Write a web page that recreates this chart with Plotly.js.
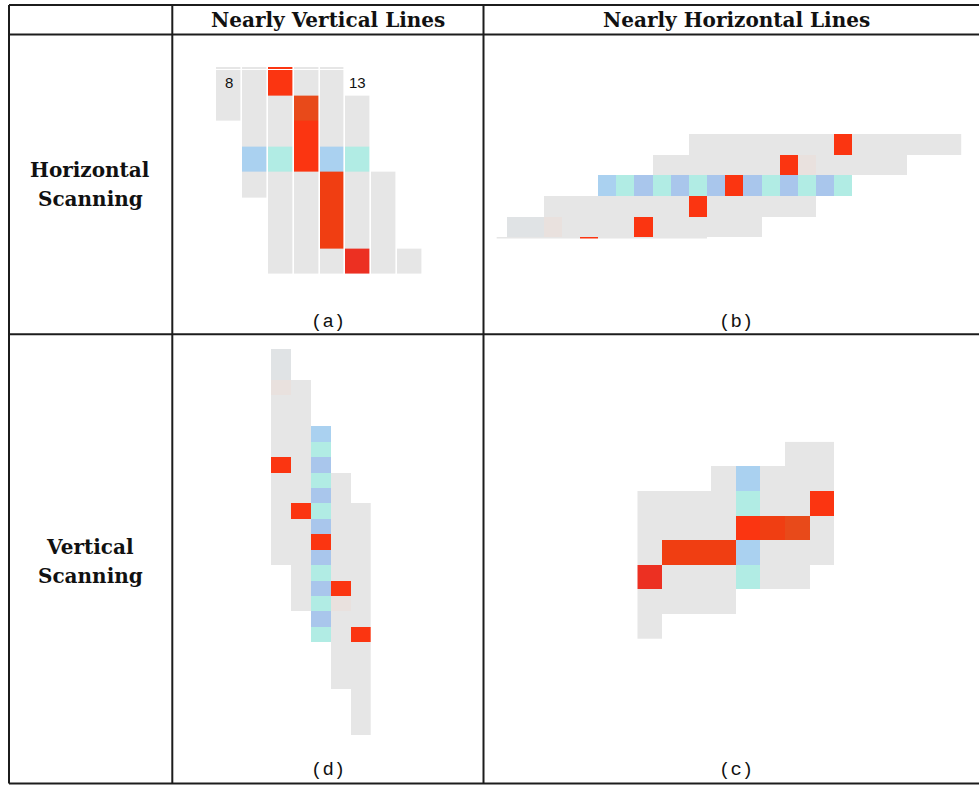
<!DOCTYPE html>
<html>
<head>
<meta charset="utf-8">
<script src="https://cdn.plot.ly/plotly-3.0.1.min.js"></script>
<style>html,body{margin:0;padding:0;background:#fff;}#chart{width:979px;height:785px;}</style>
</head>
<body>
<div id="chart"></div>
<script>
// ---- cell categories ----
const cellCodes  = ['G','g','P','R','r','o','D','B','b','C'];
const cellColors = ['#E6E6E6','#E0E3E5','#E9E1DE','#FB3511','#F03E12','#E84A1A','#EC3022','#AAD1F0','#A9C6EC','#B1ECE4'];

// ---- panel (a): horizontal scanning, nearly vertical lines (rows -1..7, cols 0..7) ----
const panelA_rowStart = -1;
const panelA = [
  'GGRGG...',
  'GGRGG...',
  'GGGoGG..',
  '.GGRGG..',
  '.BCRBC..',
  '.GGGrGG.',
  '..GGrGG.',
  '..GGrGG.',
  '..GGGDGG'
];
const panelA_labels = ['8','13'];

// ---- panel (b): horizontal scanning, nearly horizontal lines (rows 0..5, cols -6..19) ----
const panelB_colStart = -6;
const panelB = [
  '...........GGGGGGGGRGGGGGG',
  '.........GGGGGGGRPGGGGG...',
  '......BCbCbCbRbCbCbC......',
  '...GGGGGGGGRGGGGGG........',
  '.ggPGGGGRGGGGGG...........',
  'GGGGGRGGGGGG..............'
];

// ---- panel (d): vertical scanning, nearly vertical lines (rows -5..19, cols 0..4) ----
const panelD_rowStart = -5;
const panelD = [
  'g....','g....','PG...','GG...','GG...',
  'GGB..','GGC..','RGb..','GGCG.','GGbG.',
  'GRCGG','GGbGG','GGRGG','GGbGG','.GCGG',
  '.GbRG','.GCPG','..bGG','..CGR','...GG',
  '...GG','...GG','....G','....G','....G'
];

// ---- panel (c): vertical scanning, nearly horizontal lines (rows 0..7, cols 0..7) ----
const panelC = [
  '......GG',
  '...GBGGG',
  'GGGGCGGR',
  'GGGGRroG',
  'GrrrBGGG',
  'DGGGCGG.',
  'GGGG....',
  'G.......'
];

// ---- text ----
const colHeaders = ['Nearly Vertical Lines','Nearly Horizontal Lines'];
const rowHeaders = [['Horizontal','Scanning'],['Vertical','Scanning']];
const captions = ['(a)','(b)','(d)','(c)'];

// ---- helpers ----
const W = 979, H = 785;
function toZ(rows){
  return rows.map(r => r.split('').map(ch => { const i = cellCodes.indexOf(ch); return i < 0 ? null : i; }));
}
function seq(start, n){ const a=[]; for(let i=0;i<n;i++) a.push(start+i); return a; }
const cs = cellColors.map((c,i)=>[i/(cellColors.length-1), c]);
function hm(rows, colStart, rowStart, ax, gap){
  return {
    type:'heatmap', z: toZ(rows),
    x: seq(colStart, rows[0].length), y: seq(rowStart, rows.length),
    colorscale: cs, zmin:0, zmax: cellColors.length-1, showscale:false,
    xgap: gap, ygap: 0, hoverinfo:'skip',
    xaxis: 'x'+ax, yaxis: 'y'+ax
  };
}
function axis(px0, px1, range, horizontal){
  const d = horizontal ? [px0/W, px1/W] : [1-px1/H, 1-px0/H];
  return {domain:d, range:range, visible:false, showgrid:false, zeroline:false, fixedrange:true};
}

const traces = [
  hm(panelA, 0, panelA_rowStart, '', 1.6),
  hm(panelB, panelB_colStart, 0, '2', 0),
  hm(panelD, 0, panelD_rowStart, '3', 0),
  hm(panelC, 0, 0, '4', 0)
];

const line = {color:'#1c1c1c', width:2};
function L(x0,y0,x1,y1){ return {type:'line', xref:'paper', yref:'paper', x0:x0/W, x1:x1/W, y0:1-y0/H, y1:1-y1/H, line:line, layer:'above'}; }
const shapes = [
  L(9,5,979,5), L(9,783.5,979,783.5),
  L(9,5,9,783.5), L(172.3,5,172.3,783.5), L(483.5,5,483.5,783.5),
  L(9,34.5,979,34.5), L(9,334.3,979,334.3),
  // thin white separation between the clipped top sliver and row 0 of panel (a)
  {type:'line', xref:'paper', yref:'paper', x0:214/W, x1:350/W, y0:1-69.5/H, y1:1-69.5/H, line:{color:'#ffffff', width:1}, layer:'above'}
];

const boldFont = {family:'DejaVu Serif, Liberation Serif, serif', size:20, color:'#111'};
const capFont = {family:'Liberation Mono, DejaVu Sans Mono, monospace', size:19, color:'#111'};
function P(x,y,text,font,extra){ return Object.assign({xref:'paper', yref:'paper', x:x/W, y:1-y/H, text:text, showarrow:false, font:font, xanchor:'center', yanchor:'middle'}, extra||{}); }
const annotations = [
  P(328,20,'<b>'+colHeaders[0]+'</b>',boldFont),
  P(736,20,'<b>'+colHeaders[1]+'</b>',boldFont),
  P(90,170,'<b>'+rowHeaders[0][0]+'</b>',boldFont),
  P(90,199,'<b>'+rowHeaders[0][1]+'</b>',boldFont),
  P(90,547,'<b>'+rowHeaders[1][0]+'</b>',boldFont),
  P(90,576,'<b>'+rowHeaders[1][1]+'</b>',boldFont),
  P(328,322,captions[0],capFont),
  P(736,322,captions[1],capFont),
  P(328,770,captions[2],capFont),
  P(736,770,captions[3],capFont),
  {xref:'x', yref:'y', x:0, y:0, text:panelA_labels[0], showarrow:false, font:{family:'Liberation Sans Narrow, Liberation Sans, sans-serif', size:15, color:'#111'}},
  {xref:'x', yref:'y', x:4.55, y:0, text:panelA_labels[1], showarrow:false, xanchor:'left', font:{family:'Liberation Sans Narrow, Liberation Sans, sans-serif', size:15, color:'#111'}}
];

const layout = {
  width:W, height:H, margin:{l:0,r:0,t:0,b:0},
  paper_bgcolor:'#fff', plot_bgcolor:'rgba(0,0,0,0)', showlegend:false,
  xaxis:  axis(216, 423, [-0.5, 7.5], true),
  yaxis:  axis(67, 274, [7.5, -0.62], false),
  xaxis2: axis(496.7, 961.7, [-6.09, 19.5], true),
  yaxis2: axis(134, 238.6, [4.58, -0.5], false),
  xaxis3: axis(271, 370.7, [-0.5, 4.5], true),
  yaxis3: axis(349, 735, [19.5, -5.5], false),
  xaxis4: axis(637.3, 834, [-0.5, 7.5], true),
  yaxis4: axis(441.7, 639, [7.5, -0.5], false),
  shapes: shapes, annotations: annotations
};
Plotly.newPlot('chart', traces, layout, {displayModeBar:false, staticPlot:true});
</script>
</body>
</html>
